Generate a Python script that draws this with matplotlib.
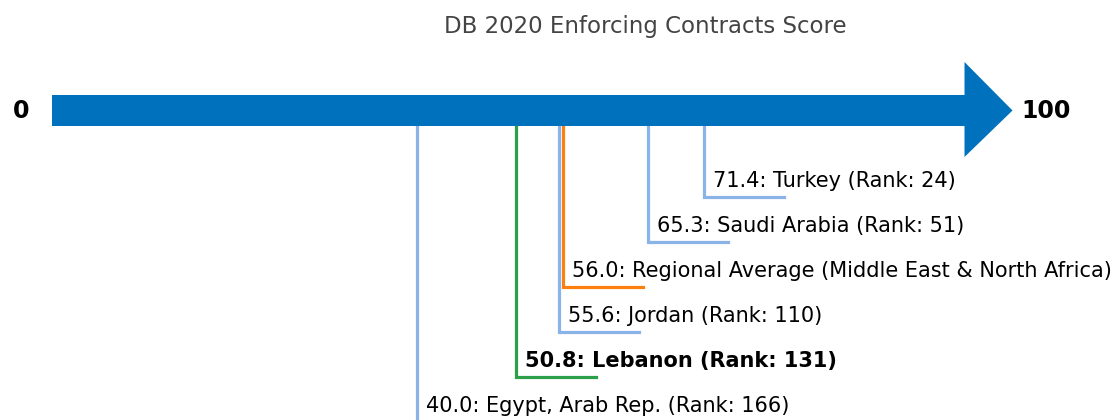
import matplotlib
matplotlib.use("Agg")
import matplotlib.pyplot as plt

plt.rcParams["font.family"] = ["DejaVu Sans"]

title = "DB 2020 Enforcing Contracts Score"
names = ["Turkey (Rank: 24)", "Saudi Arabia (Rank: 51)",
         "Regional Average (Middle East & North Africa)", "Jordan (Rank: 110)",
         "Lebanon (Rank: 131)", "Egypt, Arab Rep. (Rank: 166)"]
scores = [71.4, 65.3, 56.0, 55.6, 50.8, 40.0]
colors = ["#8ab4e8", "#8ab4e8", "#ff7f0e", "#8ab4e8", "#2ca048", "#8ab4e8"]
bold = [False, False, False, False, True, False]
axis_min, axis_max = 0, 100

W, H = 1114, 420
fig = plt.figure(figsize=(W / 100, H / 100), dpi=100)
ax = fig.add_axes([0, 0, 1, 1])
px_per = 9.125
x0 = 52
ax.set_xlim(-x0 / px_per, (W - x0) / px_per)
ax.set_ylim(H, 0)
ax.axis("off")

# arrow
head_len = 48 / px_per
bar_top, bar_bot = 95, 126
head_top, head_bot = 62, 157
yc = (bar_top + bar_bot) / 2
poly_x = [axis_min, axis_max, axis_max, axis_max + head_len, axis_max, axis_max, axis_min]
poly_y = [bar_top, bar_top, head_top, yc, head_bot, bar_bot, bar_bot]
ax.fill(poly_x, poly_y, color="#0071bc", lw=0, zorder=3)

ax.text((21 - x0) / px_per, yc, str(axis_min), ha="center", va="center",
        fontsize=17, fontweight="bold")
ax.text(axis_max + head_len + 1.0, yc, str(axis_max), ha="left", va="center",
        fontsize=17, fontweight="bold")
ax.text((645 - x0) / px_per, 27, title, ha="center", va="center",
        fontsize=16.5, color="#444444")

hlen = 80 / px_per
for i, (s, n, c, b) in enumerate(zip(scores, names, colors, bold)):
    yl = 197 + 45 * i
    ax.plot([s, s, s + hlen], [bar_bot, yl, yl], color=c, lw=2.3,
            solid_joinstyle="miter", zorder=2)
    ax.text(s + 1.0, yl - 16, f"{s:.1f}: {n}", ha="left", va="center",
            fontsize=15, fontweight="bold" if b else "normal", color="black")

fig.savefig("out.png", dpi=100)
